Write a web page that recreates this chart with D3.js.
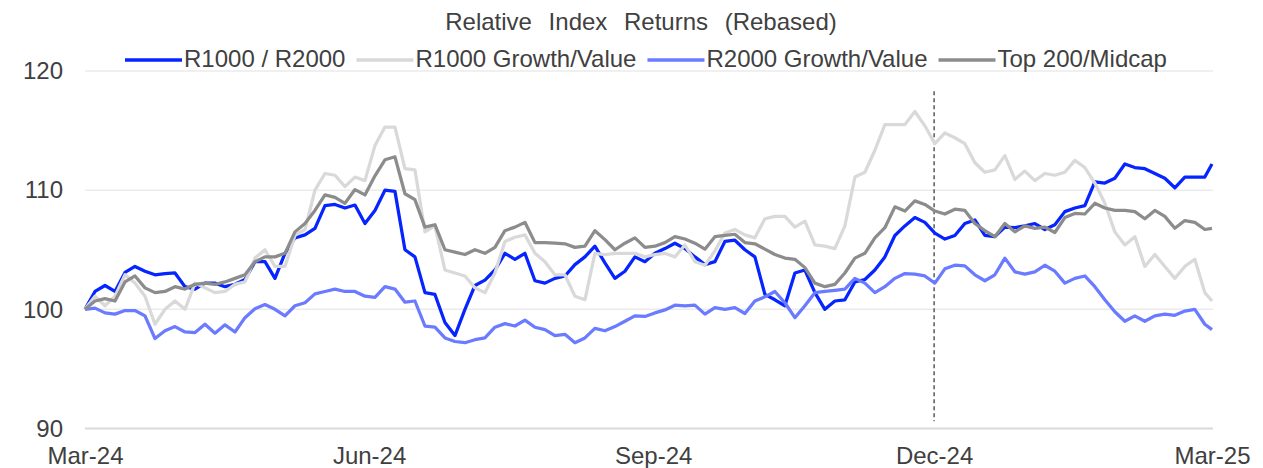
<!DOCTYPE html>
<html>
<head>
<meta charset="utf-8">
<script src="https://cdn.jsdelivr.net/npm/d3@7"></script>
<style>
  body { margin: 0; background: #fff; }
  svg text { font-family: "Liberation Sans", Arial, sans-serif; fill: #404040; }
</style>
</head>
<body>
<svg id="chart" width="1263" height="468"></svg>
<script>
// values, roughly every 3 calendar days, Mar-24 .. Mar-25
const r1000r2000 = [
  100.0, 101.5, 102.0, 101.5, 103.1, 103.6, 103.2, 102.9, 103.0, 103.05, 101.9, 101.7, 102.2, 102.2, 101.9, 102.1, 102.5, 104.0, 104.0, 102.6,
  104.7, 106.0, 106.25, 106.8, 108.7, 108.8, 108.5, 108.75, 107.2, 108.3, 110.0, 109.9, 105.0, 104.4, 101.4, 101.25, 98.9, 97.8, 100.0,
  102.0, 102.45, 103.3, 104.7, 104.2, 104.7, 102.4, 102.2, 102.6, 102.8, 103.75, 104.4, 105.3, 103.9, 102.6, 103.2, 104.4, 104.0, 104.7,
  105.1, 105.55, 105.1, 104.4, 103.75, 104.0, 105.7, 105.8, 105.0, 104.4, 101.25, 100.8, 100.3, 103.05, 103.3, 101.4, 100.0, 100.7, 100.8,
  102.3, 102.5, 103.3, 104.4, 106.2, 107.0, 107.7, 107.3, 106.4, 105.9, 106.2, 107.2, 107.5, 106.2, 106.1, 106.9, 106.85, 107.0, 107.2,
  106.7, 107.1, 108.2, 108.5, 108.7, 110.7, 110.6, 111.0, 112.2, 111.9, 111.8, 111.4, 111.0, 110.2, 111.1, 111.1, 111.1, 112.2
];
const r1000GrowthValue = [
  100.0, 101.1, 100.3, 101.1, 102.9, 102.2, 101.1, 98.75, 100.0, 100.7, 100.0, 102.2, 101.8, 101.4, 101.5, 102.1, 102.3, 104.3, 105.0, 103.6,
  103.6, 106.2, 106.7, 110.0, 111.4, 111.25, 110.3, 111.1, 110.8, 113.75, 115.3, 115.3, 111.8, 111.7, 106.5, 107.0, 103.3, 103.05, 102.8,
  101.8, 101.4, 103.05, 105.7, 106.05, 106.25, 104.7, 104.0, 102.9, 102.9, 101.1, 100.8, 104.7, 104.6, 104.7, 104.7, 104.7, 104.4, 104.6,
  104.7, 104.4, 105.4, 104.0, 103.7, 104.9, 106.4, 106.7, 106.25, 106.0, 107.6, 107.8, 107.8, 106.9, 107.4, 105.4, 105.3, 105.1, 107.0,
  111.1, 111.5, 113.35, 115.5, 115.5, 115.5, 116.6, 115.4, 113.9, 114.8, 114.4, 113.9, 112.3, 111.5, 111.7, 112.9, 110.9, 111.6, 110.8,
  111.4, 111.25, 111.5, 112.5, 111.9, 110.6, 108.9, 106.5, 105.4, 106.1, 103.6, 104.6, 103.6, 102.6, 103.6, 104.2, 101.4, 100.7
];
const r2000GrowthValue = [
  100.0, 100.1, 99.7, 99.6, 99.9, 99.9, 99.45, 97.55, 98.2, 98.55, 98.1, 98.05, 98.75, 98.0, 98.7, 98.1, 99.3, 100.05, 100.4, 100.0,
  99.45, 100.3, 100.55, 101.3, 101.5, 101.7, 101.5, 101.5, 101.1, 101.0, 101.9, 101.7, 100.6, 100.7, 98.6, 98.5, 97.6, 97.3, 97.2,
  97.45, 97.6, 98.5, 98.8, 98.6, 99.1, 98.5, 98.3, 97.8, 97.9, 97.2, 97.6, 98.4, 98.2, 98.55, 99.0, 99.45, 99.4, 99.7,
  99.95, 100.35, 100.3, 100.35, 99.6, 100.15, 100.0, 100.15, 99.65, 100.7, 101.05, 101.5, 100.55, 99.3, 100.3, 101.4, 101.5, 101.6, 101.7,
  102.6, 102.2, 101.4, 101.9, 102.6, 103.0, 102.95, 102.8, 102.2, 103.4, 103.7, 103.65, 102.9, 102.4, 102.9, 104.3, 103.15, 102.95, 103.15,
  103.7, 103.2, 102.2, 102.6, 102.8, 101.9, 100.8, 99.8, 99.0, 99.45, 99.0, 99.45, 99.6, 99.5, 99.85, 100.0, 98.75, 98.3
];
const top200Midcap = [
  100.0, 100.7, 100.9, 100.7, 102.3, 102.8, 101.8, 101.4, 101.5, 101.9, 101.7, 102.1, 102.2, 102.1, 102.3, 102.6, 102.9, 104.0, 104.4, 104.4,
  104.7, 106.5, 107.2, 108.3, 109.6, 109.4, 108.9, 110.05, 109.6, 111.2, 112.55, 112.8, 109.7, 109.2, 106.9, 107.1, 105.0, 104.8, 104.6,
  105.0, 104.7, 105.2, 106.6, 106.9, 107.3, 105.6, 105.6, 105.55, 105.5, 105.2, 105.3, 106.6, 105.85, 105.0, 105.55, 106.0, 105.2, 105.3,
  105.6, 106.1, 105.9, 105.55, 105.05, 106.1, 106.2, 106.3, 105.6, 105.5, 105.05, 104.6, 104.3, 104.2, 103.5, 102.2, 101.9, 102.1, 103.05,
  104.3, 104.7, 106.0, 106.85, 108.6, 108.25, 109.1, 108.8, 108.25, 108.0, 108.4, 108.3, 107.2, 106.6, 106.1, 107.2, 106.5, 107.0, 106.8,
  106.9, 106.45, 107.7, 108.05, 108.0, 108.9, 108.5, 108.3, 108.3, 108.2, 107.6, 108.3, 107.8, 106.8, 107.45, 107.3, 106.7, 106.8
];

const seriesNames = ["R1000 / R2000", "R1000 Growth/Value", "R2000 Growth/Value", "Top 200/Midcap"];
const seriesValues = [r1000r2000, r1000GrowthValue, r2000GrowthValue, top200Midcap];
const seriesColors = ["#0524ff", "#d9d9d9", "#6b7bff", "#8c8c8c"];

const yTicks = [90, 100, 110, 120];
const xTickLabels = ["Mar-24", "Jun-24", "Sep-24", "Dec-24", "Mar-25"];
const xTickDates = [new Date(2024, 2, 1), new Date(2024, 5, 1), new Date(2024, 8, 1), new Date(2024, 11, 1), new Date(2025, 2, 1)];
const markerDate = new Date(2024, 11, 1);

const startDate = new Date(2024, 2, 1), endDate = new Date(2025, 2, 1);
// sample dates: one reading about every 77.7 hours, last one on the end date
const n = r1000r2000.length;
const dates = d3.range(n).map(i => i === n - 1 ? endDate : d3.timeMinute.offset(startDate, Math.round(i * 4663)));

const svg = d3.select("#chart");

const x = d3.scaleTime().domain([startDate, endDate]).range([85, 1212]);
const y = d3.scaleLinear().domain([90, 120]).range([428.5, 71]);

// gridlines
svg.append("g")
    .selectAll("line")
    .data(yTicks.filter(d => d !== 90))
    .join("line")
    .attr("x1", 85).attr("x2", 1213)
    .attr("y1", d => y(d)).attr("y2", d => y(d))
    .attr("stroke", "#ebebeb")
    .attr("stroke-width", 1.5);

// y labels
const yAxis = svg.append("g")
    .attr("transform", "translate(63,0)")
    .call(d3.axisLeft(y).tickValues(yTicks).tickSize(0).tickPadding(0));
yAxis.select(".domain").remove();
yAxis.selectAll("text")
    .style("font-size", "24px")
    .style("font-family", "'Liberation Sans', Arial, sans-serif")
    .attr("fill", "#404040");

// x axis line (the 90 line) + labels
svg.append("line")
    .attr("x1", 85).attr("x2", 1213)
    .attr("y1", y(90)).attr("y2", y(90))
    .attr("stroke", "#d9d9d9")
    .attr("stroke-width", 2);

const xAxis = svg.append("g")
    .attr("transform", "translate(0," + y(90) + ")")
    .call(d3.axisBottom(x).tickValues(xTickDates).tickSize(0)
        .tickFormat((d, i) => xTickLabels[i]));
xAxis.select(".domain").remove();
xAxis.selectAll("text")
    .attr("y", 35)
    .attr("dy", 0)
    .style("font-size", "24px")
    .style("font-family", "'Liberation Sans', Arial, sans-serif")
    .attr("fill", "#404040");

// dashed marker
svg.append("line")
    .attr("x1", x(markerDate)).attr("x2", x(markerDate))
    .attr("y1", y(118.3)).attr("y2", y(90.6))
    .attr("stroke", "#595959")
    .attr("stroke-width", 1.5)
    .attr("stroke-dasharray", "4,3");

// series lines
const line = d3.line()
    .x((d, i) => x(dates[i]))
    .y(d => y(d));

seriesValues.forEach(function (vals, k) {
    svg.append("path")
        .datum(vals)
        .attr("fill", "none")
        .attr("stroke", seriesColors[k])
        .attr("stroke-width", 3.25)
        .attr("stroke-linejoin", "round")
        .attr("d", line);
});

// title
svg.append("text")
    .attr("x", 641)
    .attr("y", 30)
    .attr("text-anchor", "middle")
    .style("font-size", "24px")
    .style("word-spacing", "10px")
    .text("Relative Index Returns (Rebased)");

// legend
let lx = 125;
seriesNames.forEach(function (name, k) {
    svg.append("line")
        .attr("x1", lx).attr("x2", lx + 57)
        .attr("y1", 60).attr("y2", 60)
        .attr("stroke", seriesColors[k])
        .attr("stroke-width", 3.5);
    const t = svg.append("text")
        .attr("x", lx + 59)
        .attr("y", 67)
        .style("font-size", "24px")
        .text(name);
    lx = lx + 59 + t.node().getComputedTextLength() + 11;
});
</script>
</body>
</html>
